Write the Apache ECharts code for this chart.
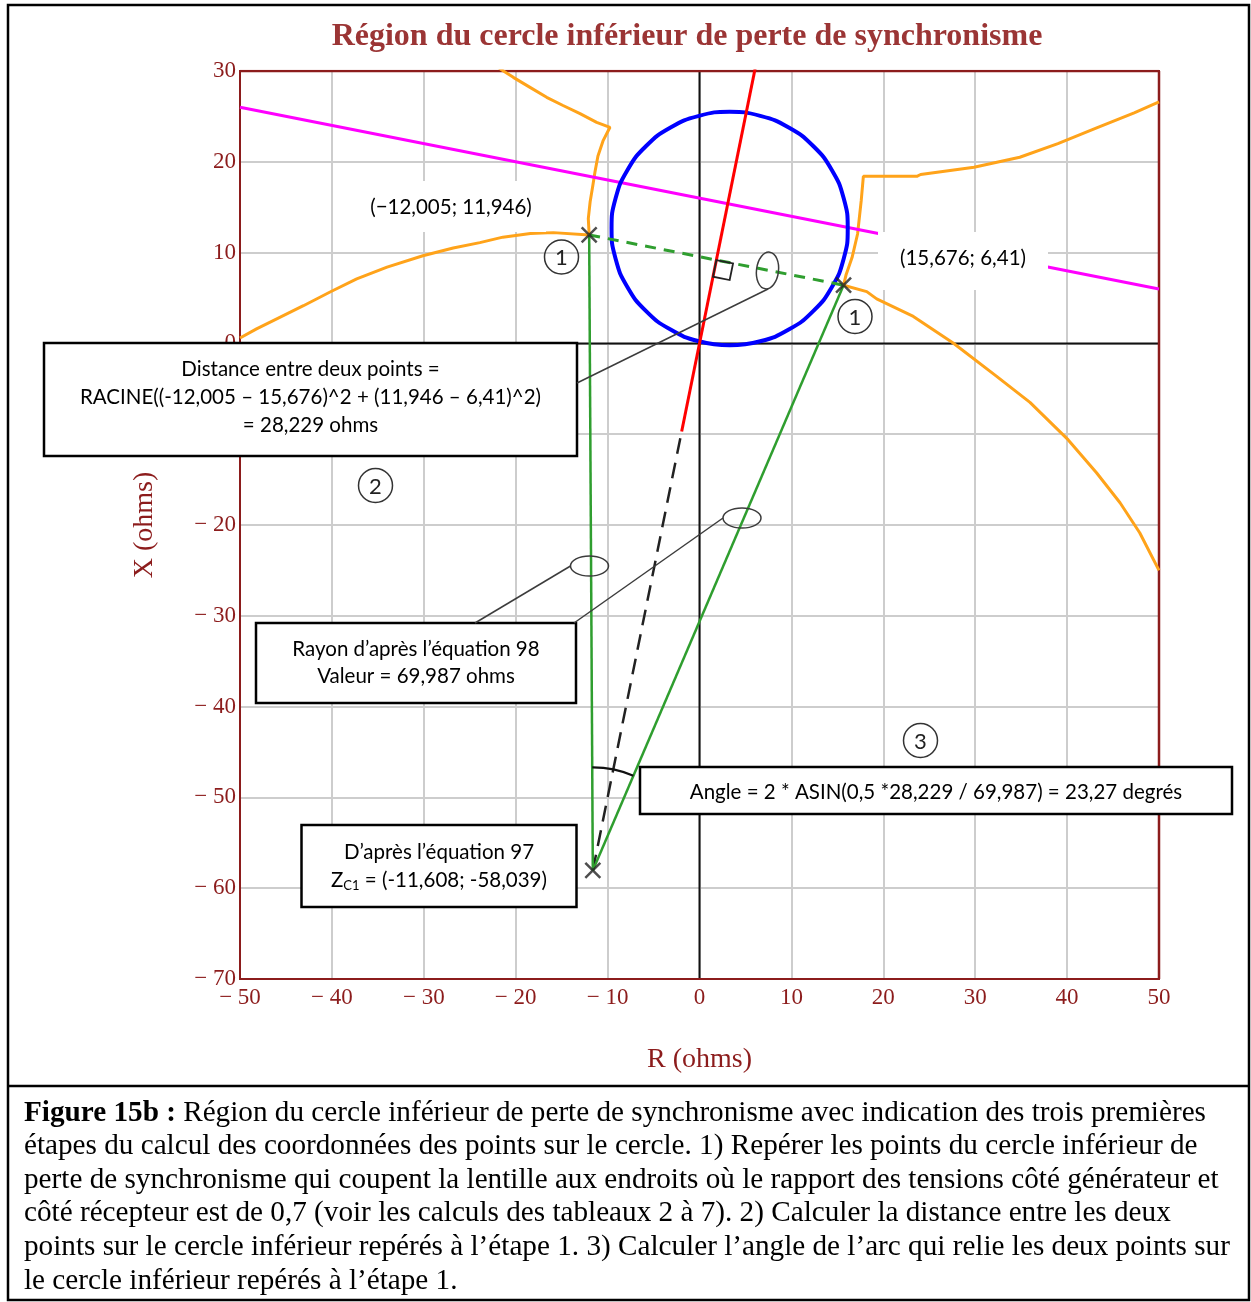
<!DOCTYPE html>
<html><head><meta charset="utf-8">
<script src="https://cdn.jsdelivr.net/npm/echarts@6/dist/echarts.min.js"></script>
<style>html,body{margin:0;padding:0;background:#fff}#c{width:1251px;height:1302px}</style>
</head><body><div id="c"></div>
<script>
// ---------- data ----------
const titleText = 'Région du cercle inférieur de perte de synchronisme';
const xAxisName = 'R (ohms)';
const yAxisName = 'X (ohms)';
const pointP1 = [-12.005, 11.946];
const pointP2 = [15.676, 6.41];
const pointZc1 = [-11.608, -58.039];
const redLine = [[-1.94, -9.7], [6.1, 30.5]];
const blackDashed = [[-11.608, -58.039], [-1.94, -9.7]];
const magentaLine = [[-50, 26.0], [50, 6.0]];
const blueCircle = [[3.28,-0.2],[6.61,0.24],[9.71,1.52],[12.37,3.56],[14.41,6.22],[15.69,9.32],[16.13,12.65],[15.69,15.98],[14.41,19.08],[12.37,21.74],[9.71,23.78],[6.61,25.06],[3.28,25.5],[-0.05,25.06],[-3.15,23.78],[-5.81,21.74],[-7.85,19.08],[-9.13,15.98],[-9.57,12.65],[-9.13,9.32],[-7.85,6.22],[-5.81,3.56],[-3.15,1.52],[-0.05,0.24],[3.28,-0.2]];
const orangeUpperLeft = [[-21.8,30.3],[-20.26,29.3],[-18.44,28.2],[-16.63,27.1],[-14.85,26.2],[-13.0,25.3],[-11.19,24.35],[-9.74,23.8],[-10.5,22.3],[-11.05,20.65],[-11.37,18.9],[-11.62,17.3],[-11.9,15.6],[-12.1,13.75],[-12.005,11.946]];
const orangeLowerLeft = [[-12.005,11.946],[-15.9,12.2],[-18.4,12.1],[-21.4,11.7],[-23.9,11.1],[-26.8,10.5],[-30.1,9.65],[-34.0,8.4],[-37.3,7.1],[-40.2,5.66],[-43.1,4.15],[-46.0,2.7],[-48.2,1.6],[-50,0.6]];
const orangeUpperRight = [[15.676,6.41],[15.96,7.6],[16.6,9.45],[17.2,12.05],[17.6,15.75],[17.83,18.4],[23.65,18.4],[24.06,18.6],[29.87,19.4],[34.85,20.5],[39.0,22.0],[43.15,23.7],[47.3,25.4],[50,26.6]];
const orangeLowerRight = [[15.676,6.41],[18.2,5.7],[19.28,4.9],[23.27,2.97],[27.6,0.04],[32.3,-3.6],[35.96,-6.5],[40.1,-10.6],[43.2,-14.25],[45.76,-17.55],[47.9,-20.85],[50,-25.0]];
const labelP1 = '(\u221212,005; 11,946)';
const labelP2 = '(15,676; 6,41)';
const box1Lines = ['Distance entre deux points =', 'RACINE((-12,005 \u2013 15,676)^2 + (11,946 \u2013 6,41)^2)', '= 28,229 ohms'];
const box2Lines = ['Rayon d\u2019après l\u2019équation 98', 'Valeur = 69,987 ohms'];
const box3Lines = ['Angle = 2 * ASIN(0,5 *28,229 / 69,987) = 23,27 degrés'];
const box4Line1 = 'D\u2019après l\u2019équation 97';
const box4Line2 = '{m|Z}{s|C1}{m| = (-11,608; -58,039)}';
const stepNumbers = ['1', '1', '2', '3'];
const captionBold = 'Figure 15b :';
const captionLines = [
  ' Région du cercle inférieur de perte de synchronisme avec indication des trois premières',
  'étapes du calcul des coordonnées des points sur le cercle. 1) Repérer les points du cercle inférieur de',
  'perte de synchronisme qui coupent la lentille aux endroits où le rapport des tensions côté générateur et',
  'côté récepteur est de 0,7 (voir les calculs des tableaux 2 à 7). 2) Calculer la distance entre les deux',
  'points sur le cercle inférieur repérés à l\u2019étape 1. 3) Calculer l\u2019angle de l\u2019arc qui relie les deux points sur',
  'le cercle inférieur repérés à l\u2019étape 1.'
];

// ---------- styling ----------
const AX = '#8c1c1c';
const SANS = 'Lato, "Open Sans", sans-serif';
const SERIF = '"Liberation Serif", "Times New Roman", serif';
const ORANGE = '#ffa31a';
const GREEN = '#2f9e2f';
const BF = '20.5px ' + SANS;
const CF = 29.2;
function tickFmt(v) { return v < 0 ? '\u2212 ' + (-v) : String(v); }
function lineSeries(data, color, width, type, z) {
  return { type: 'line', data: data, showSymbol: false, symbol: 'none', silent: true, z: z || 3,
    lineStyle: { color: color, width: width, type: type || 'solid' } };
}

const chart = echarts.init(document.getElementById('c'), null, { renderer: 'canvas', width: 1251, height: 1302 });
const option = {
  animation: false,
  backgroundColor: '#fff',
  grid: { left: 240, top: 71, width: 919, height: 908, show: true, borderColor: AX, borderWidth: 2, z: 3 },
  xAxis: {
    type: 'value', min: -50, max: 50, interval: 10,
    axisLine: { show: true, onZero: false, lineStyle: { color: AX, width: 2 } },
    axisTick: { show: false },
    axisLabel: { formatter: tickFmt, color: AX, fontFamily: SERIF, fontSize: 23, margin: 7, showMinLabel: true, showMaxLabel: true },
    splitLine: { show: true, showMinLine: false, showMaxLine: false, lineStyle: { color: '#cdcdcd', width: 2 } },
    name: xAxisName, nameLocation: 'middle', nameGap: 67,
    nameTextStyle: { color: AX, fontFamily: SERIF, fontSize: 28 }
  },
  yAxis: {
    type: 'value', min: -70, max: 30, interval: 10,
    axisLine: { show: true, onZero: false, lineStyle: { color: AX, width: 2 } },
    axisTick: { show: false },
    axisLabel: { formatter: tickFmt, color: AX, fontFamily: SERIF, fontSize: 23, margin: 4, showMinLabel: true, showMaxLabel: true },
    splitLine: { show: true, showMinLine: false, showMaxLine: false, lineStyle: { color: '#cdcdcd', width: 2 } },
    name: yAxisName, nameLocation: 'middle', nameGap: 81,
    nameTextStyle: { color: AX, fontFamily: SERIF, fontSize: 28 }
  },
  series: [
    lineSeries([[-50, 0], [50, 0]], '#111', 2, 'solid', 2),
    lineSeries([[0, -70], [0, 30]], '#111', 2, 'solid', 2),
    lineSeries([[-50, 30], [50, 30]], AX, 2.5, 'solid', 2),
    lineSeries([[50, -70], [50, 30]], AX, 2.5, 'solid', 2),
    lineSeries(orangeUpperLeft, ORANGE, 3),
    lineSeries(orangeLowerLeft, ORANGE, 3),
    lineSeries(orangeUpperRight, ORANGE, 3),
    lineSeries(orangeLowerRight, ORANGE, 3),
    lineSeries(magentaLine, '#ff00ff', 3),
    Object.assign(lineSeries(blueCircle, '#0000ff', 4), { smooth: 0.5 }),
    lineSeries(redLine, '#ff0000', 3),
    lineSeries(blackDashed, '#222', 2.5, [16, 9]),
    lineSeries([pointZc1, pointP1], GREEN, 2.5),
    lineSeries([pointZc1, pointP2], GREEN, 2.5),
    lineSeries([pointP1, pointP2], GREEN, 3, [11, 8]),
    { type: 'scatter', data: [pointP1, pointP2, pointZc1], silent: true, z: 6,
      symbol: 'path://M0 0L16 16M16 0L0 16', symbolSize: 15,
      itemStyle: { color: 'transparent', borderColor: '#222', borderWidth: 2.5 } }
  ]
};
chart.setOption(option);

// ---------- annotations ----------
const toPx = p => chart.convertToPixel({ gridIndex: 0 }, p);
const pc = toPx(pointZc1), pa = toPx(pointP1), pb = toPx(pointP2);
const pm = toPx([(pointP1[0] + pointP2[0]) / 2, (pointP1[1] + pointP2[1]) / 2]);
const angA = Math.atan2(pa[1] - pc[1], pa[0] - pc[0]);
const angB = Math.atan2(pb[1] - pc[1], pb[0] - pc[0]);
function unit(v) { const l = Math.hypot(v[0], v[1]); return [v[0] / l, v[1] / l]; }
const u = unit([pb[0] - pa[0], pb[1] - pa[1]]);
const v = unit([pc[0] - pm[0], pc[1] - pm[1]]);
const S = 17;
const sq = [pm, [pm[0] + S * u[0], pm[1] + S * u[1]], [pm[0] + S * u[0] + S * v[0], pm[1] + S * u[1] + S * v[1]], [pm[0] + S * v[0], pm[1] + S * v[1]]];

const Z = 100;
const els = [];
function txt(x, y, text, font, fill, align) {
  els.push({ type: 'text', x: x, y: y, z: Z + 2,
    style: { text: text, font: font, fill: fill || '#000', align: align || 'center', textAlign: align || 'center', verticalAlign: 'middle', textVerticalAlign: 'middle' } });
}
function rect(x, y, w, h, stroke, lw) {
  els.push({ type: 'rect', z: Z, shape: { x: x, y: y, width: w, height: h },
    style: { fill: '#fff', stroke: stroke || null, lineWidth: lw || 0 } });
}
function line(x1, y1, x2, y2) {
  els.push({ type: 'line', z: Z + 1, shape: { x1: x1, y1: y1, x2: x2, y2: y2 }, style: { stroke: '#3c3c3c', lineWidth: 1.5 } });
}
function ell(cx, cy, rx, ry, rot) {
  els.push({ type: 'ellipse', z: Z + 1, x: cx, y: cy, rotation: rot || 0, shape: { cx: 0, cy: 0, rx: rx, ry: ry }, style: { fill: null, stroke: '#3c3c3c', lineWidth: 1.5 } });
}
function circNum(cx, cy, t) {
  els.push({ type: 'circle', z: Z + 1, shape: { cx: cx, cy: cy, r: 17 }, style: { fill: null, stroke: '#333', lineWidth: 1.5 } });
  txt(cx, cy + 1, t, '22px ' + SANS, '#222');
}

// outer frame
els.push({ type: 'rect', z: Z, shape: { x: 8, y: 5, width: 1241, height: 1295 }, style: { fill: null, stroke: '#000', lineWidth: 2.5 } });
els.push({ type: 'line', z: Z, shape: { x1: 8, y1: 1086, x2: 1249, y2: 1086 }, style: { stroke: '#000', lineWidth: 2.5 } });
// title
txt(687, 37, titleText, 'bold 32px ' + SERIF, '#9b3535');
// coordinate labels with white backgrounds
rect(355, 181, 191, 51);
txt(451, 207, labelP1, BF);
rect(878, 232, 170, 58);
txt(963, 258, labelP2, BF);
// leader lines and ellipses
line(577, 383, 768, 289); ell(767.5, 270.5, 11, 18.5, -0.12);
line(475, 623, 570.5, 566); ell(589.5, 566, 19, 10);
line(574, 623, 723, 518); ell(742, 518, 19, 10);
// boxes
rect(44, 343, 533, 113, '#000', 2.5);
txt(310.5, 369, box1Lines[0], BF);
txt(310.5, 397, box1Lines[1], BF);
txt(310.5, 425, box1Lines[2], BF);
rect(256, 623, 320, 80, '#000', 2.5);
txt(416, 649, box2Lines[0], BF);
txt(416, 676, box2Lines[1], BF);
rect(640, 767, 592, 47, '#000', 2.5);
txt(936, 792, box3Lines[0], BF);
rect(301.5, 825, 275, 82, '#000', 2.5);
txt(439, 852, box4Line1, BF);
els.push({ type: 'text', x: 439, y: 880, z: Z + 2,
  style: { text: box4Line2, align: 'center', textAlign: 'center', verticalAlign: 'middle', textVerticalAlign: 'middle',
    rich: { m: { fontSize: 20.5, fontFamily: SANS, fill: '#000', color: '#000', lineHeight: 24, verticalAlign: 'middle' },
            s: { fontSize: 13, fontFamily: SANS, fill: '#000', color: '#000', lineHeight: 12, verticalAlign: 'bottom' } } } });
// step numbers
circNum(561.5, 257, stepNumbers[0]);
circNum(855, 316.5, stepNumbers[1]);
circNum(375.5, 485.5, stepNumbers[2]);
circNum(920.5, 740.5, stepNumbers[3]);
// angle arc and right-angle square
els.push({ type: 'arc', z: Z + 1, shape: { cx: pc[0], cy: pc[1], r: 103, startAngle: angA, endAngle: angB, clockwise: true },
  style: { fill: null, stroke: '#111', lineWidth: 2.2 } });
els.push({ type: 'polygon', z: Z + 1, shape: { points: sq }, style: { fill: null, stroke: '#222', lineWidth: 1.8 } });
// caption
els.push({ type: 'text', x: 24, y: 1113, z: Z + 2,
  style: { text: '{b|' + captionBold + '}{r|' + captionLines[0] + '}', align: 'left', textAlign: 'left', verticalAlign: 'middle', textVerticalAlign: 'middle',
    rich: { b: { fontSize: CF, fontFamily: SERIF, fontWeight: 'bold', fill: '#000', color: '#000' },
            r: { fontSize: CF, fontFamily: SERIF, fill: '#000', color: '#000' } } } });
for (let i = 1; i < captionLines.length; i++) {
  txt(24, 1113 + i * 33.6, captionLines[i], CF + 'px ' + SERIF, '#000', 'left');
}
chart.setOption({ graphic: { elements: els } });
</script>
</body></html>
